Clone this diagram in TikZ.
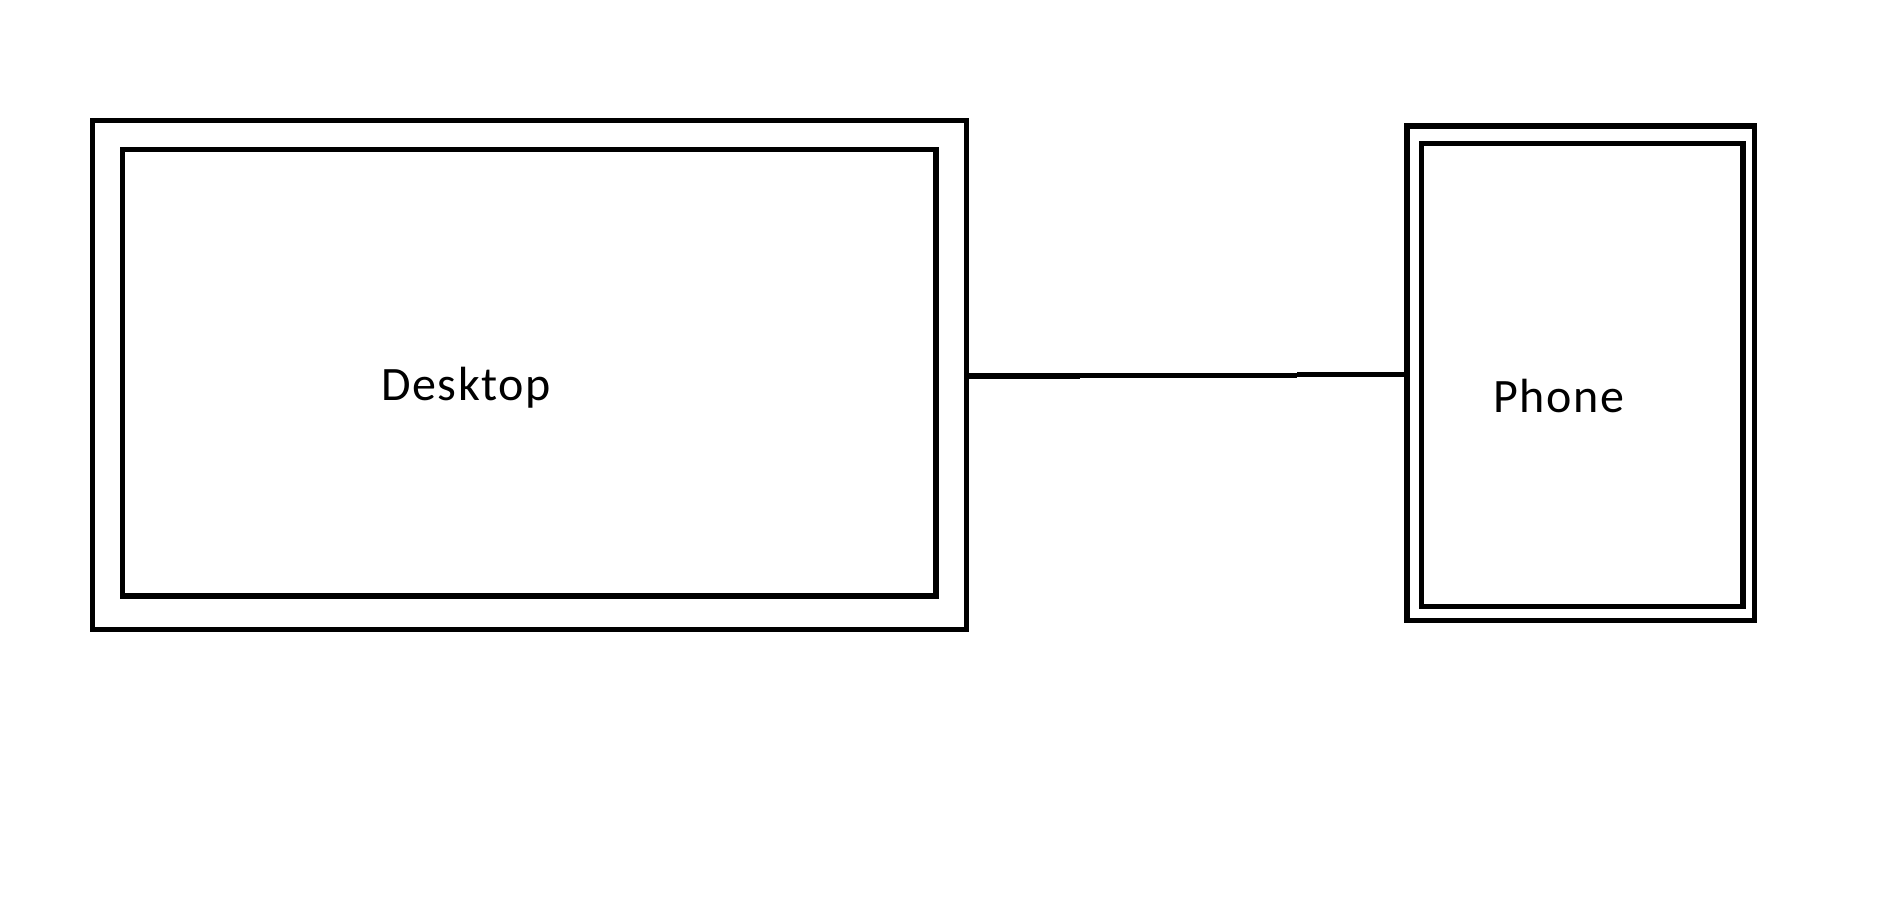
\documentclass[tikz,border=0pt]{standalone}
\usepackage{fontspec}
\setmainfont[LetterSpace=3.5]{Carlito}
\begin{document}
\begin{tikzpicture}[x=1pt,y=-1pt,
  frame/.style={draw=black,line width=5.2pt,rectangle,inner sep=0pt,outer sep=0pt,fill=none},
  wire/.style={draw=black,line width=5.2pt,line cap=butt},
  lbl/.style={inner sep=0pt,outer sep=0pt,anchor=base west,font=\fontsize{48}{52}\selectfont}]
\fill[white] (0,0) rectangle (1902,898);
\useasboundingbox (0,0) rectangle (1902,898);
% Desktop
\node[frame,minimum width=874pt,minimum height=509pt] (dout) at (529.5,375) {};
\node[frame,minimum width=813.5pt,minimum height=446.5pt] (din) at (529.25,372.75) {};
\node[lbl] (dtext) at (381,400) {Desktop};
% Phone
\node[frame,minimum width=347.5pt,minimum height=494.5pt] (pout) at (1580.75,373.25) {};
\node[frame,minimum width=321.5pt,minimum height=463pt] (pin) at (1582.25,375) {};
\node[lbl] (ptext) at (1493,412.3) {Phone};
% connector
\coordinate (j1) at (1080,375.6);
\coordinate (j2) at (1297,374.8);
\draw[wire] (dout.east |- 0,376) -- (j1 |- 0,376);
\draw[wire] (j1 |- 0,375.3) -- (j2 |- 0,375.3);
\draw[wire] (j2 |- 0,374.3) -- (pout.west |- 0,374.3);
\end{tikzpicture}
\end{document}
